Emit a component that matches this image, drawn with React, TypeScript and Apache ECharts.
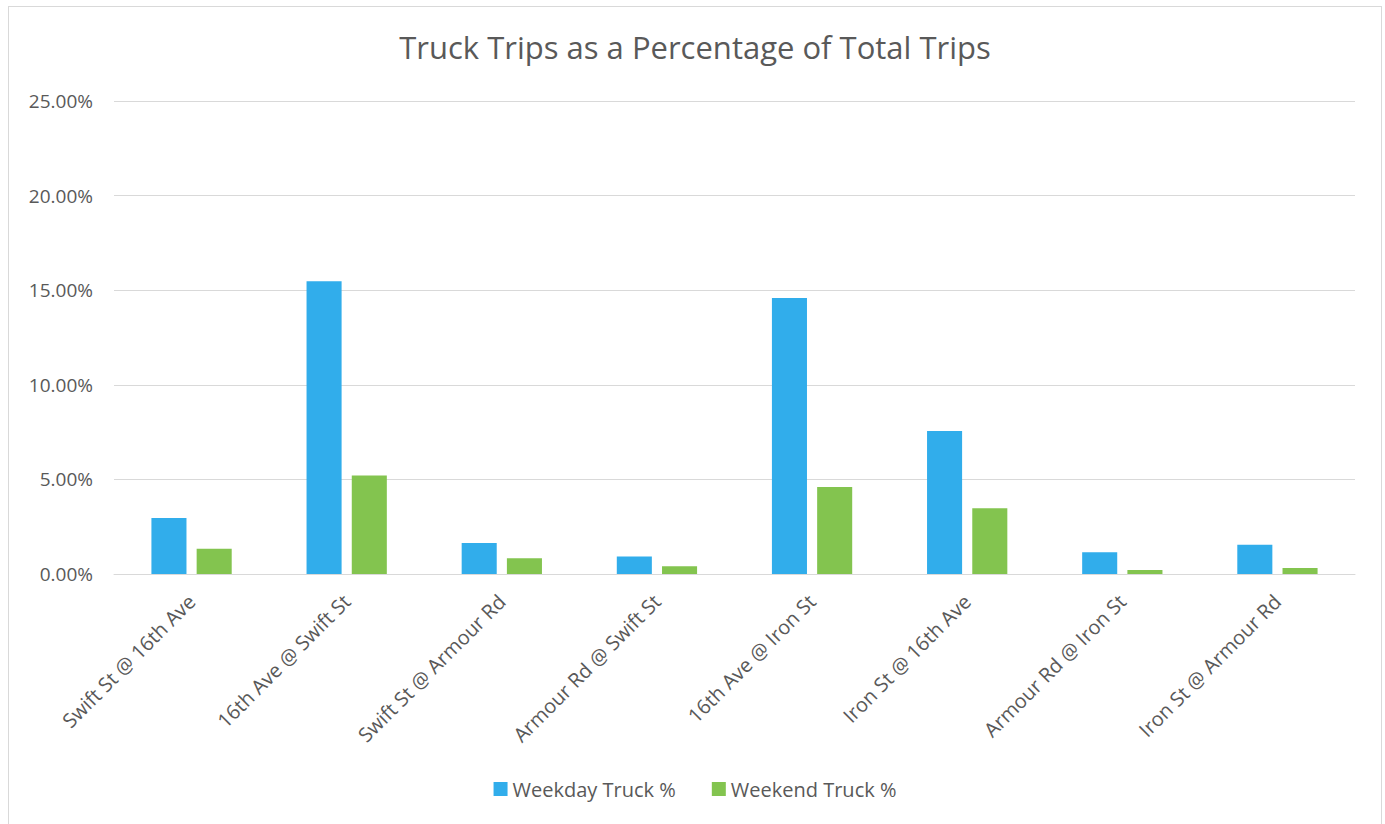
import React, { useEffect, useRef } from "react";
import * as echarts from "echarts";

const categories = [
  "Swift St @ 16th Ave",
  "16th Ave @ Swift St",
  "Swift St @ Armour Rd",
  "Armour Rd @ Swift St",
  "16th Ave @ Iron St",
  "Iron St @ 16th Ave",
  "Armour Rd @ Iron St",
  "Iron St @ Armour Rd",
];
const weekday = [2.96, 15.47, 1.64, 0.92, 14.59, 7.56, 1.15, 1.55];
const weekend = [1.34, 5.2, 0.83, 0.41, 4.6, 3.47, 0.21, 0.32];
const seriesNames = ["Weekday Truck %", "Weekend Truck %"];
const titleText = "Truck Trips as a Percentage of Total Trips";

const FONT = "'Open Sans', 'Noto Sans', sans-serif";
const TXT = "#595959";

export default function App() {
  const ref = useRef<HTMLDivElement>(null);
  useEffect(() => {
    if (!ref.current) return;
    const chart = echarts.init(ref.current, undefined, { renderer: "svg" });
    chart.setOption({
      animation: false,
      backgroundColor: "#ffffff",
      title: {
        text: titleText,
        left: "center",
        top: 19,
        textStyle: { fontFamily: FONT, fontSize: 31, fontWeight: "normal", color: TXT },
      },
      legend: {
        bottom: 31,
        left: "center",
        itemWidth: 14,
        itemHeight: 14,
        itemGap: 36,
        icon: "rect",
        textStyle: { fontFamily: FONT, fontSize: 20, color: TXT },
        data: seriesNames,
      },
      grid: { left: 105, right: 26, top: 94, bottom: 261, containLabel: false },
      xAxis: {
        type: "category",
        data: categories,
        axisLine: { lineStyle: { color: "#D9D9D9", width: 1 } },
        axisTick: { show: false },
        axisLabel: {
          rotate: 45,
          interval: 0,
          margin: 24,
          fontFamily: FONT,
          fontSize: 20,
          color: TXT,
        },
      },
      yAxis: {
        type: "value",
        min: 0,
        max: 25,
        interval: 5,
        axisLine: { show: false },
        axisTick: { show: false },
        splitLine: { lineStyle: { color: "#D9D9D9", width: 1 } },
        axisLabel: {
          formatter: (v: number) => v.toFixed(2) + "%",
          margin: 21,
          fontFamily: FONT,
          fontSize: 19,
          color: TXT,
        },
      },
      series: [
        {
          name: seriesNames[0],
          type: "bar",
          data: weekday,
          barWidth: "22.6%",
          barGap: "29%",
          itemStyle: { color: "#31ADEB" },
        },
        {
          name: seriesNames[1],
          type: "bar",
          data: weekend,
          barWidth: "22.6%",
          itemStyle: { color: "#83C44F" },
        },
      ],
    });
    return () => chart.dispose();
  }, []);
  return (
    <div
      style={{
        position: "fixed",
        left: 8,
        top: 6,
        width: 1374,
        height: 830,
        border: "1px solid #D9D9D9",
        boxSizing: "border-box",
        background: "#ffffff",
      }}
    >
      <div ref={ref} style={{ width: 1372, height: 828 }} />
    </div>
  );
}
